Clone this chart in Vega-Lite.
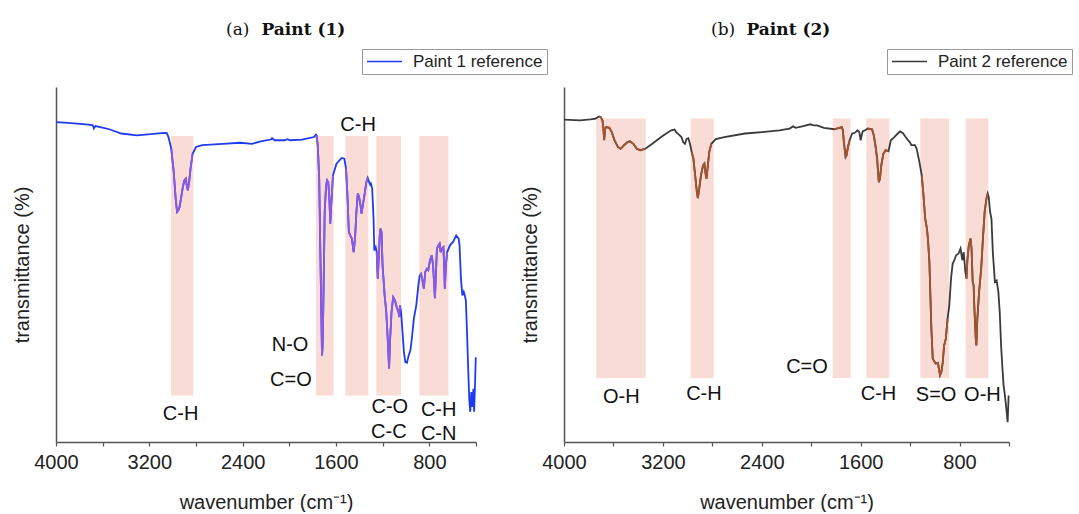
{
  "$schema": "https://vega.github.io/schema/vega-lite/v6.json",
  "background": "white",
  "autosize": {"type": "pad"},
  "padding": {"left": 12, "top": 20, "right": 0, "bottom": 0},
  "bounds": "flush",
  "spacing": 88,
  "resolve": {"scale": {"color": "independent"}, "legend": {"color": "independent"}},
  "config": {
    "view": {"stroke": null},
    "axis": {"grid": false, "domainColor": "#555", "domainWidth": 1.5, "tickColor": "#555", "tickWidth": 1.2, "labelFont": "Liberation Sans", "titleFont": "Liberation Sans", "labelFontSize": 20, "titleFontSize": 20, "titleFontWeight": "normal", "labelColor": "#222", "titleColor": "#222"},
    "legend": {"orient": "none", "title": null, "strokeColor": "#999", "fillColor": "white", "padding": 4, "labelFont": "Liberation Sans", "labelFontSize": 17, "labelColor": "#222", "symbolType": "M-1.5,0H5.5", "symbolSize": 100, "symbolStrokeWidth": 1.5, "labelOffset": 30, "cornerRadius": 0},
    "title": {"font": "DejaVu Serif", "fontSize": 17, "fontWeight": "normal", "color": "#111", "subtitleFont": "DejaVu Serif", "subtitleFontSize": 17, "subtitleFontWeight": "bold", "subtitleColor": "#111", "subtitlePadding": -17, "anchor": "start", "frame": "group", "offset": 10}
  },
  "datasets": {
    "p1": [
      {"wn":4000,"t":90.1},{"wn":3897,"t":89.9},{"wn":3720,"t":89.4},{"wn":3684,"t":89.2},{"wn":3676,"t":88.3},{"wn":3661,"t":89.0},{"wn":3543,"t":88.1},{"wn":3440,"t":86.9},{"wn":3307,"t":86.4},{"wn":3189,"t":86.7},{"wn":3071,"t":87.1},{"wn":3050,"t":87.0},{"wn":3036,"t":85.9},{"wn":3012,"t":82.6},{"wn":2991,"t":76.1},{"wn":2974,"t":68.5},{"wn":2962,"t":64.8},{"wn":2950,"t":65.3},{"wn":2941,"t":66.2},{"wn":2929,"t":68.5},{"wn":2915,"t":71.4},{"wn":2900,"t":73.7},{"wn":2888,"t":74.2},{"wn":2879,"t":72.3},{"wn":2870,"t":70.9},{"wn":2859,"t":73.2},{"wn":2847,"t":77.0},{"wn":2829,"t":81.2},{"wn":2800,"t":83.1},{"wn":2747,"t":83.6},{"wn":2570,"t":84.0},{"wn":2422,"t":84.3},{"wn":2319,"t":84.0},{"wn":2245,"t":84.7},{"wn":2157,"t":85.2},{"wn":2148,"t":85.6},{"wn":2127,"t":85.0},{"wn":2039,"t":85.0},{"wn":2015,"t":85.3},{"wn":1995,"t":85.0},{"wn":1891,"t":85.2},{"wn":1788,"t":85.9},{"wn":1773,"t":86.6},{"wn":1767,"t":86.4},{"wn":1756,"t":83.6},{"wn":1744,"t":74.2},{"wn":1735,"t":55.4},{"wn":1726,"t":36.6},{"wn":1720,"t":24.4},{"wn":1714,"t":27.2},{"wn":1705,"t":46.0},{"wn":1697,"t":64.8},{"wn":1685,"t":72.3},{"wn":1676,"t":73.7},{"wn":1667,"t":73.2},{"wn":1658,"t":69.5},{"wn":1649,"t":61.5},{"wn":1641,"t":66.7},{"wn":1626,"t":75.1},{"wn":1596,"t":78.4},{"wn":1552,"t":80.0},{"wn":1529,"t":79.8},{"wn":1514,"t":77.0},{"wn":1502,"t":69.5},{"wn":1490,"t":59.2},{"wn":1478,"t":58.2},{"wn":1464,"t":57.3},{"wn":1449,"t":53.5},{"wn":1437,"t":57.3},{"wn":1425,"t":64.8},{"wn":1413,"t":70.0},{"wn":1402,"t":69.0},{"wn":1390,"t":66.7},{"wn":1381,"t":64.3},{"wn":1366,"t":67.6},{"wn":1352,"t":70.4},{"wn":1340,"t":73.2},{"wn":1328,"t":74.4},{"wn":1316,"t":73.2},{"wn":1307,"t":72.5},{"wn":1301,"t":72.8},{"wn":1290,"t":71.4},{"wn":1278,"t":62.9},{"wn":1272,"t":54.0},{"wn":1260,"t":54.9},{"wn":1251,"t":53.5},{"wn":1242,"t":46.0},{"wn":1234,"t":51.6},{"wn":1225,"t":58.2},{"wn":1219,"t":60.1},{"wn":1210,"t":59.2},{"wn":1201,"t":49.8},{"wn":1183,"t":41.3},{"wn":1169,"t":36.6},{"wn":1154,"t":27.2},{"wn":1145,"t":20.7},{"wn":1136,"t":29.1},{"wn":1124,"t":36.6},{"wn":1110,"t":40.8},{"wn":1095,"t":39.9},{"wn":1080,"t":38.0},{"wn":1065,"t":36.6},{"wn":1057,"t":35.2},{"wn":1051,"t":38.5},{"wn":1042,"t":36.6},{"wn":1030,"t":31.0},{"wn":1018,"t":25.4},{"wn":1006,"t":22.5},{"wn":992,"t":22.3},{"wn":977,"t":24.4},{"wn":962,"t":25.8},{"wn":947,"t":30.0},{"wn":933,"t":34.7},{"wn":912,"t":38.5},{"wn":894,"t":44.1},{"wn":883,"t":46.9},{"wn":871,"t":47.4},{"wn":859,"t":45.5},{"wn":847,"t":43.2},{"wn":835,"t":47.9},{"wn":821,"t":48.8},{"wn":809,"t":48.4},{"wn":794,"t":51.2},{"wn":779,"t":52.6},{"wn":768,"t":49.8},{"wn":752,"t":40.5},{"wn":745,"t":46.0},{"wn":735,"t":54.5},{"wn":723,"t":55.4},{"wn":712,"t":55.9},{"wn":703,"t":53.5},{"wn":691,"t":54.5},{"wn":679,"t":54.9},{"wn":667,"t":43.2},{"wn":658,"t":49.8},{"wn":647,"t":53.5},{"wn":623,"t":55.4},{"wn":594,"t":56.5},{"wn":570,"t":58.2},{"wn":549,"t":57.3},{"wn":541,"t":55.4},{"wn":529,"t":46.0},{"wn":517,"t":41.3},{"wn":505,"t":42.3},{"wn":496,"t":41.3},{"wn":487,"t":39.9},{"wn":476,"t":30.0},{"wn":467,"t":20.7},{"wn":458,"t":12.2},{"wn":449,"t":8.5},{"wn":440,"t":14.1},{"wn":431,"t":9.9},{"wn":422,"t":15.0},{"wn":416,"t":8.5},{"wn":407,"t":17.8},{"wn":402,"t":23.9}
    ],
    "p2": [
      {"wn":4000,"t":90.8},{"wn":3869,"t":90.6},{"wn":3786,"t":90.9},{"wn":3744,"t":91.1},{"wn":3717,"t":91.7},{"wn":3703,"t":91.5},{"wn":3689,"t":90.6},{"wn":3681,"t":88.3},{"wn":3675,"t":85.0},{"wn":3667,"t":88.3},{"wn":3658,"t":88.7},{"wn":3633,"t":88.5},{"wn":3614,"t":87.3},{"wn":3592,"t":85.0},{"wn":3564,"t":83.1},{"wn":3542,"t":82.6},{"wn":3514,"t":83.6},{"wn":3486,"t":84.5},{"wn":3467,"t":84.7},{"wn":3439,"t":84.0},{"wn":3411,"t":82.6},{"wn":3383,"t":82.2},{"wn":3342,"t":82.6},{"wn":3286,"t":84.0},{"wn":3203,"t":86.2},{"wn":3133,"t":87.8},{"wn":3106,"t":88.0},{"wn":3092,"t":87.3},{"wn":3064,"t":86.4},{"wn":3050,"t":85.9},{"wn":3036,"t":84.5},{"wn":3022,"t":84.0},{"wn":3008,"t":85.4},{"wn":2994,"t":85.6},{"wn":2981,"t":84.0},{"wn":2967,"t":81.7},{"wn":2953,"t":79.8},{"wn":2939,"t":75.1},{"wn":2925,"t":70.4},{"wn":2917,"t":68.7},{"wn":2906,"t":71.4},{"wn":2892,"t":75.1},{"wn":2875,"t":77.9},{"wn":2864,"t":78.4},{"wn":2853,"t":75.1},{"wn":2847,"t":74.2},{"wn":2839,"t":77.0},{"wn":2825,"t":81.7},{"wn":2808,"t":84.0},{"wn":2772,"t":85.3},{"wn":2703,"t":85.9},{"wn":2536,"t":86.9},{"wn":2397,"t":87.3},{"wn":2258,"t":87.8},{"wn":2175,"t":88.3},{"wn":2147,"t":88.9},{"wn":2125,"t":88.5},{"wn":2064,"t":89.0},{"wn":2008,"t":89.5},{"wn":1981,"t":89.2},{"wn":1953,"t":89.2},{"wn":1897,"t":88.5},{"wn":1814,"t":88.1},{"wn":1772,"t":88.5},{"wn":1753,"t":88.7},{"wn":1744,"t":87.8},{"wn":1736,"t":84.5},{"wn":1722,"t":80.3},{"wn":1714,"t":80.8},{"wn":1703,"t":83.1},{"wn":1689,"t":85.0},{"wn":1669,"t":86.9},{"wn":1647,"t":87.1},{"wn":1625,"t":87.8},{"wn":1611,"t":87.3},{"wn":1600,"t":85.0},{"wn":1592,"t":86.4},{"wn":1583,"t":87.5},{"wn":1564,"t":87.8},{"wn":1542,"t":88.3},{"wn":1508,"t":88.1},{"wn":1494,"t":86.4},{"wn":1481,"t":83.6},{"wn":1467,"t":79.8},{"wn":1453,"t":73.2},{"wn":1444,"t":74.2},{"wn":1433,"t":77.9},{"wn":1417,"t":81.2},{"wn":1397,"t":82.2},{"wn":1375,"t":81.9},{"wn":1356,"t":85.0},{"wn":1328,"t":85.9},{"wn":1300,"t":86.9},{"wn":1281,"t":87.5},{"wn":1258,"t":87.0},{"wn":1236,"t":85.9},{"wn":1217,"t":85.0},{"wn":1203,"t":84.5},{"wn":1189,"t":83.6},{"wn":1161,"t":83.6},{"wn":1147,"t":82.6},{"wn":1125,"t":78.9},{"wn":1106,"t":75.1},{"wn":1092,"t":69.5},{"wn":1078,"t":62.9},{"wn":1064,"t":60.1},{"wn":1056,"t":57.3},{"wn":1044,"t":50.7},{"wn":1036,"t":41.3},{"wn":1028,"t":31.9},{"wn":1017,"t":23.5},{"wn":994,"t":22.1},{"wn":975,"t":22.3},{"wn":958,"t":18.8},{"wn":947,"t":19.7},{"wn":936,"t":22.5},{"wn":925,"t":27.2},{"wn":911,"t":29.1},{"wn":897,"t":34.7},{"wn":883,"t":38.5},{"wn":869,"t":46.0},{"wn":856,"t":50.2},{"wn":842,"t":51.2},{"wn":828,"t":52.6},{"wn":808,"t":53.1},{"wn":792,"t":54.5},{"wn":778,"t":51.2},{"wn":767,"t":53.5},{"wn":753,"t":47.9},{"wn":744,"t":46.0},{"wn":736,"t":51.6},{"wn":725,"t":55.4},{"wn":711,"t":57.3},{"wn":703,"t":54.5},{"wn":694,"t":45.1},{"wn":686,"t":44.1},{"wn":681,"t":38.5},{"wn":669,"t":29.1},{"wn":664,"t":27.2},{"wn":656,"t":34.7},{"wn":642,"t":42.3},{"wn":625,"t":48.8},{"wn":611,"t":57.3},{"wn":597,"t":64.8},{"wn":583,"t":68.5},{"wn":572,"t":70.0},{"wn":564,"t":69.0},{"wn":553,"t":64.8},{"wn":542,"t":62.9},{"wn":531,"t":53.5},{"wn":514,"t":45.1},{"wn":500,"t":45.5},{"wn":486,"t":42.3},{"wn":475,"t":36.6},{"wn":464,"t":27.2},{"wn":453,"t":20.7},{"wn":444,"t":16.0},{"wn":433,"t":13.1},{"wn":419,"t":8.5},{"wn":411,"t":5.6},{"wn":406,"t":10.3},{"wn":403,"t":13.1}
    ],
    "b1": [
      {"wn":3014,"wn2":2823,"t":86.2,"t2":13.1},
      {"wn":1771,"wn2":1621,"t":86.2,"t2":13.1},
      {"wn":1520,"wn2":1323,"t":86.2,"t2":13.1},
      {"wn":1255,"wn2":1043,"t":86.2,"t2":13.1},
      {"wn":886,"wn2":635,"t":86.2,"t2":13.1}
    ],
    "b2": [
      {"wn":3739,"wn2":3339,"t":91.1,"t2":18.0},
      {"wn":2975,"wn2":2789,"t":91.1,"t2":18.0},
      {"wn":1826,"wn2":1681,"t":91.1,"t2":18.0},
      {"wn":1554,"wn2":1368,"t":91.1,"t2":18.0},
      {"wn":1117,"wn2":885,"t":91.1,"t2":18.0},
      {"wn":750,"wn2":567,"t":91.1,"t2":18.0}
    ],
    "l1": [
      {"wn":2932,"t":8.0,"label":"C-H"},
      {"wn":1994,"t":27.2,"label":"N-O"},
      {"wn":1986,"t":17.4,"label":"C=O"},
      {"wn":1411,"t":89.2,"label":"C-H"},
      {"wn":1139,"t":9.9,"label":"C-O"},
      {"wn":1147,"t":2.8,"label":"C-C"},
      {"wn":720,"t":8.9,"label":"C-H"},
      {"wn":720,"t":2.3,"label":"C-N"}
    ],
    "l2": [
      {"wn":3536,"t":12.7,"label":"O-H"},
      {"wn":2868,"t":13.6,"label":"C-H"},
      {"wn":2034,"t":21.1,"label":"C=O"},
      {"wn":1456,"t":13.6,"label":"C-H"},
      {"wn":990,"t":13.1,"label":"S=O"},
      {"wn":615,"t":13.1,"label":"O-H"}
    ]
  },
  "hconcat": [
    {
      "width": 420,
      "height": 355,
      "title": {"text": "(a)", "subtitle": "\u200b\u00a0\u00a0\u00a0\u00a0\u00a0\u00a0Paint (1)", "dx": 170},
      "encoding": {
        "x": {"field": "wn", "type": "quantitative", "scale": {"domain": [4000, 400], "nice": false, "zero": false},
          "axis": {"title": "wavenumber (cm⁻¹)", "values": [4000,3600,3200,2800,2400,2000,1600,1200,800,400], "labelExpr": "datum.value % 800 === 0 ? datum.label : ''", "labelFlush": false, "labelOverlap": false, "tickSize": 4, "labelPadding": 6, "titlePadding": 20, "format": "d"}},
        "y": {"field": "t", "type": "quantitative", "scale": {"domain": [0, 100], "nice": false},
          "axis": {"title": "transmittance (%)", "ticks": false, "labels": false, "titlePadding": 23.5}}
      },
      "layer": [
        {"data": {"name": "b1"}, "mark": {"type": "rect", "color": "#f9dcd6"}, "encoding": {"x2": {"field": "wn2"}, "y2": {"field": "t2"}}},
        {"data": {"name": "p1"}, "mark": {"type": "line", "strokeWidth": 1.8},
          "encoding": {"color": {"datum": "Paint 1 reference", "type": "nominal", "scale": {"range": ["#1f3bf2"]}, "legend": {"legendX": 306, "legendY": -38}}}},
        {"data": {"name": "p1"}, "transform": [{"filter": {"field": "wn", "range": [2823, 3014]}}], "mark": {"type": "line", "strokeWidth": 1.8, "color": "#8c5ae0"}},
        {"data": {"name": "p1"}, "transform": [{"filter": {"field": "wn", "range": [1621, 1771]}}], "mark": {"type": "line", "strokeWidth": 1.8, "color": "#8c5ae0"}},
        {"data": {"name": "p1"}, "transform": [{"filter": {"field": "wn", "range": [1323, 1520]}}], "mark": {"type": "line", "strokeWidth": 1.8, "color": "#8c5ae0"}},
        {"data": {"name": "p1"}, "transform": [{"filter": {"field": "wn", "range": [1043, 1255]}}], "mark": {"type": "line", "strokeWidth": 1.8, "color": "#8c5ae0"}},
        {"data": {"name": "p1"}, "transform": [{"filter": {"field": "wn", "range": [635, 886]}}], "mark": {"type": "line", "strokeWidth": 1.8, "color": "#8c5ae0"}},
        {"data": {"name": "l1"}, "mark": {"type": "text", "font": "Liberation Sans", "fontSize": 20, "color": "#111", "align": "center", "baseline": "middle"}, "encoding": {"text": {"field": "label"}}}
      ]
    },
    {
      "width": 445,
      "height": 355,
      "title": {"text": "(b)", "subtitle": "\u200b\u00a0\u00a0\u00a0\u00a0\u00a0\u00a0Paint (2)", "dx": 147},
      "encoding": {
        "x": {"field": "wn", "type": "quantitative", "scale": {"domain": [4000, 400], "nice": false, "zero": false},
          "axis": {"title": "wavenumber (cm⁻¹)", "values": [4000,3600,3200,2800,2400,2000,1600,1200,800,400], "labelExpr": "datum.value % 800 === 0 ? datum.label : ''", "labelFlush": false, "labelOverlap": false, "tickSize": 4, "labelPadding": 6, "titlePadding": 20, "format": "d"}},
        "y": {"field": "t", "type": "quantitative", "scale": {"domain": [0, 100], "nice": false},
          "axis": {"title": "transmittance (%)", "ticks": false, "labels": false, "titlePadding": 23.5}}
      },
      "layer": [
        {"data": {"name": "b2"}, "mark": {"type": "rect", "color": "#f9dcd6"}, "encoding": {"x2": {"field": "wn2"}, "y2": {"field": "t2"}}},
        {"data": {"name": "p2"}, "mark": {"type": "line", "strokeWidth": 1.8},
          "encoding": {"color": {"datum": "Paint 2 reference", "type": "nominal", "scale": {"range": ["#3a3a3a"]}, "legend": {"legendX": 323, "legendY": -38}}}},
        {"data": {"name": "p2"}, "transform": [{"filter": {"field": "wn", "range": [3339, 3739]}}], "mark": {"type": "line", "strokeWidth": 1.8, "color": "#a3532f"}},
        {"data": {"name": "p2"}, "transform": [{"filter": {"field": "wn", "range": [2789, 2975]}}], "mark": {"type": "line", "strokeWidth": 1.8, "color": "#a3532f"}},
        {"data": {"name": "p2"}, "transform": [{"filter": {"field": "wn", "range": [1681, 1826]}}], "mark": {"type": "line", "strokeWidth": 1.8, "color": "#a3532f"}},
        {"data": {"name": "p2"}, "transform": [{"filter": {"field": "wn", "range": [1368, 1554]}}], "mark": {"type": "line", "strokeWidth": 1.8, "color": "#a3532f"}},
        {"data": {"name": "p2"}, "transform": [{"filter": {"field": "wn", "range": [885, 1117]}}], "mark": {"type": "line", "strokeWidth": 1.8, "color": "#a3532f"}},
        {"data": {"name": "p2"}, "transform": [{"filter": {"field": "wn", "range": [567, 750]}}], "mark": {"type": "line", "strokeWidth": 1.8, "color": "#a3532f"}},
        {"data": {"name": "l2"}, "mark": {"type": "text", "font": "Liberation Sans", "fontSize": 20, "color": "#111", "align": "center", "baseline": "middle"}, "encoding": {"text": {"field": "label"}}}
      ]
    }
  ]
}
